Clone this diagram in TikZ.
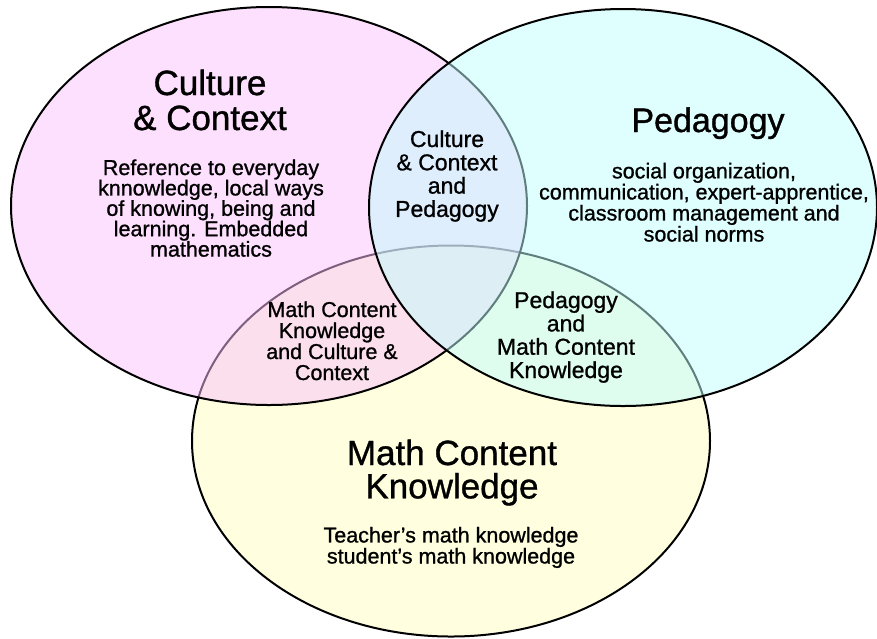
\documentclass[tikz,border=0pt]{standalone}
\usepackage{fontspec}
\setmainfont{Liberation Sans}[FakeBold=1]
\usetikzlibrary{shapes.geometric}
\definecolor{pinkbase}{RGB}{251,193,251}
\definecolor{cyanbase}{RGB}{191,253,253}
\definecolor{yellowbase}{RGB}{255,255,224}
\begin{document}
% text nodes are anchored at the baseline of their last line
\begin{tikzpicture}[x=1pt,y=-1pt,
  setshape/.style={ellipse, draw=black, line width=2pt, inner sep=0pt, outer sep=0pt},
  title/.style={font=\fontsize{35}{35}\selectfont, align=center, anchor=base, inner sep=0pt},
  body/.style={font=\fontsize{21.5}{20.4}\selectfont, align=center, anchor=base, inner sep=0pt},
  overlap/.style={font=\fontsize{23}{23.3}\selectfont, align=center, anchor=base, inner sep=0pt}]
\useasboundingbox (0,0) rectangle (877,638);
% the three sets, bottom one first so the others tint its outline
\node[setshape, fill=yellowbase, minimum width=518pt, minimum height=391pt] (math) at (451,441) {};
\node[setshape, fill=pinkbase, fill opacity=0.5, minimum width=516pt, minimum height=398pt] (culture) at (269,206) {};
\node[setshape, fill=cyanbase, fill opacity=0.5, minimum width=508pt, minimum height=397pt] (peda) at (623,207.5) {};
% set titles
\node[title] (cultureT) at (210,130) {Culture\\\& Context};
\node[title, font=\fontsize{34}{34}\selectfont] (pedaT) at (708,132) {Pedagogy};
\node[title, font=\fontsize{35}{33.3}\selectfont] (mathT) at (452,498.3) {Math Content\\Knowledge};
% set descriptions
\node[body] (cultureB) at (211,256.6) {Reference to everyday\\knnowledge, local ways\\of knowing, being and\\learning. Embedded\\mathematics};
\node[body, font=\fontsize{21.5}{19.8}\selectfont] (pedaB) at (704,241.5) {social organization,\\communication, expert-apprentice,\\classroom management and\\social norms};
\node[body, font=\fontsize{21.5}{19.5}\selectfont] (mathB) at (451,563.5) {Teacher’s math knowledge\\student’s math knowledge};
% overlaps
\node[overlap] (cp) at (447,216.9) {Culture\\\& Context\\and\\Pedagogy};
\node[overlap, font=\fontsize{21.5}{21}\selectfont] (mc) at (332,380) {Math Content\\Knowledge\\and Culture \&\\Context};
\node[overlap] (pm) at (566,378) {Pedagogy\\and\\Math Content\\Knowledge};
\end{tikzpicture}
\end{document}
